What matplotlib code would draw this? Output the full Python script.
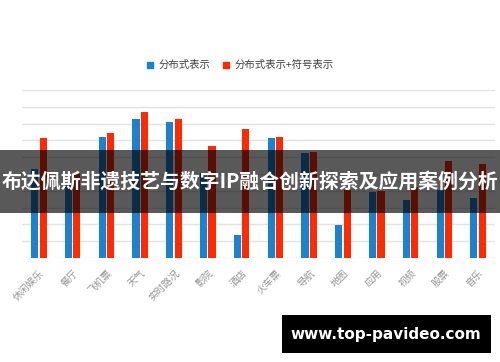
import numpy as np
import matplotlib
matplotlib.use("Agg")
import matplotlib.pyplot as plt
from matplotlib.patches import Rectangle
from matplotlib.lines import Line2D

plt.rcParams['font.family'] = ['Noto Sans CJK SC', 'DejaVu Sans']

categories = ["休闲娱乐", "餐厅", "飞机票", "天气", "实时路况", "影院", "酒店",
              "火车票", "导航", "地图", "应用", "视频", "股票", "音乐"]
dist_only = [5.3, 4.4, 7.2, 8.3, 8.1, 5.05, 1.35, 7.15, 6.25, 1.95, 3.9, 3.45, 4.05, 3.55]
dist_symbol = [7.15, 5.05, 7.45, 8.7, 8.3, 6.65, 7.7, 7.2, 6.3, 4.05, 4.0, 4.2, 5.75, 5.6]
series_names = ["分布式表示", "分布式表示+符号表示"]
banner_text = "布达佩斯非遗技艺与数字IP融合创新探索及应用案例分析"
watermark = "www.top-pavideo.com"

BLUE = "#1a82cf"
RED = "#ff2a00"

fig = plt.figure(figsize=(5.0, 3.62), dpi=100)
ax = fig.add_axes([0.044, 0.2873, 0.946, 0.4641])

x = np.arange(len(categories))
w = 0.21
ax.bar(x - 0.125, dist_only, width=w, color=BLUE, zorder=2)
ax.bar(x + 0.125, dist_symbol, width=w, color=RED, zorder=2)

ax.set_xlim(-0.5, len(categories) - 0.5)
ax.set_ylim(0, 10)
ax.set_yticks(np.arange(0, 11, 1))
ax.yaxis.grid(True, color="#e3e3e3", linewidth=1.0, zorder=0)
ax.tick_params(axis="y", length=0, labelleft=False)
ax.tick_params(axis="x", length=0, pad=7)
for s in ax.spines.values():
    s.set_visible(False)

ax.set_xticks(x)
ax.set_xticklabels(categories, rotation=45, ha="right", va="top",
                   rotation_mode="anchor", fontsize=7, color="#959595")

handles = [Line2D([], [], marker="s", linestyle="none", markersize=5,
                  color=c) for c in (BLUE, RED)]
fig.legend(handles, series_names, loc="center", bbox_to_anchor=(0.478, 0.82),
           ncol=2, frameon=False, fontsize=7.5, handletextpad=0.3,
           columnspacing=1.0, handlelength=1.0, labelcolor="#404040")

# dark banner across the middle
fig.patches.append(Rectangle((0, 1 - 213 / 362), 1, 63 / 362,
                             transform=fig.transFigure, facecolor="black",
                             alpha=0.65, zorder=10))
fig.text(0.5, 1 - 181 / 362, banner_text, ha="center", va="center",
         color="white", fontsize=14.3, fontweight="bold", zorder=11)

# watermark box
fig.patches.append(Rectangle((282 / 500, 1 - 353 / 362), 209 / 500, 38 / 362,
                             transform=fig.transFigure, facecolor="black",
                             zorder=10))
fig.text(386 / 500, 1 - 334 / 362, watermark, ha="center", va="center",
         color="white", fontsize=11, fontweight="bold", zorder=11,
         family=["DejaVu Sans"])

fig.savefig("out.png", dpi=100)
